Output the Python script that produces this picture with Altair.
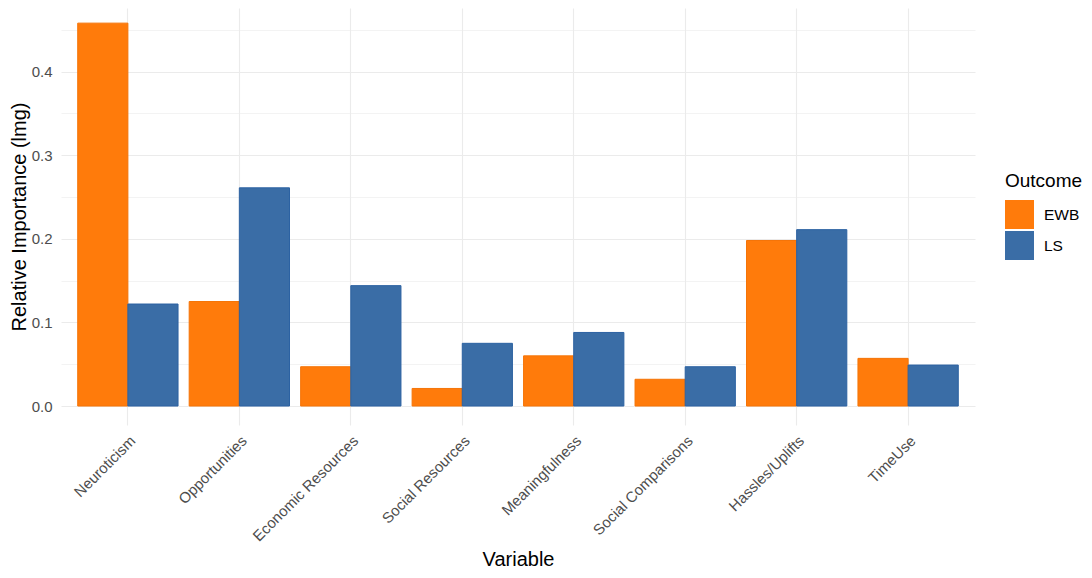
import altair as alt
import pandas as pd

variables = ["Neuroticism", "Opportunities", "Economic Resources", "Social Resources",
             "Meaningfulness", "Social Comparisons", "Hassles/Uplifts", "TimeUse"]
ewb = [0.458, 0.125, 0.047, 0.021, 0.060, 0.032, 0.198, 0.057]
ls = [0.122, 0.261, 0.144, 0.075, 0.088, 0.047, 0.211, 0.049]
outcomes = ["EWB", "LS"]
fill_colors = ["#FF7B0B", "#3A6DA6"]
stroke_colors = ["#F57407", "#2C62A2"]
y_ticks = [0.0, 0.05, 0.1, 0.15, 0.2, 0.25, 0.3, 0.35, 0.4, 0.45]

rows = []
for v, e, l in zip(variables, ewb, ls):
    rows.append({"Variable": v, "Outcome": "EWB", "Value": e})
    rows.append({"Variable": v, "Outcome": "LS", "Value": l})
df = pd.DataFrame(rows)

FONT = "Arial, Liberation Sans, sans-serif"

bars = alt.Chart(df).mark_bar(strokeWidth=1).encode(
    x=alt.X("Variable:N", sort=variables,
            scale=alt.Scale(paddingInner=0.1, paddingOuter=0.15),
            axis=alt.Axis(title="Variable", labelAngle=-45, labelAlign="right",
                          labelBaseline="top", labelPadding=8, ticks=False, tickSize=0,
                          domain=False, bandPosition=0.5, grid=True,
                          gridColor="#EBEBEB", gridWidth=1.1,
                          labelFontSize=15, labelColor="#4D4D4D",
                          titleFontSize=20, titleColor="#000000", titleFontWeight="normal",
                          titleY=140, titleBaseline="alphabetic", labelFont=FONT, titleFont=FONT)),
    xOffset=alt.XOffset("Outcome:N", sort=outcomes, scale=alt.Scale(paddingInner=0, paddingOuter=0)),
    y=alt.Y("Value:Q",
            scale=alt.Scale(domain=[-0.0227, 0.4761], nice=False, zero=False),
            axis=alt.Axis(title="Relative Importance (lmg)", values=y_ticks,
                          labelExpr="round(datum.value*20) % 2 == 0 ? format(datum.value, '.1f') : ''",
                          ticks=False, tickSize=0, domain=False, labelPadding=9,
                          gridColor="#EBEBEB",
                          gridWidth={"condition": {"test": "round(datum.value*20) % 2 == 0", "value": 1.1}, "value": 0.6},
                          labelFontSize=15, labelColor="#4D4D4D",
                          titleFontSize=20, titleColor="#000000", titleFontWeight="normal",
                          titleX=-42, titleBaseline="middle", labelFont=FONT, titleFont=FONT)),
    y2=alt.datum(0),
    color=alt.Color("Outcome:N", sort=outcomes,
                    scale=alt.Scale(domain=outcomes, range=fill_colors),
                    legend=alt.Legend(title="Outcome", orient="none", legendX=944, legendY=164,
                                      symbolType="square", symbolSize=841,
                                      symbolStrokeWidth=0, symbolOpacity=1,
                                      titleFontSize=19, titleFontWeight="normal", titleColor="#000000",
                                      labelFontSize=15.5, labelColor="#000000", labelOffset=10,
                                      rowPadding=2, titlePadding=9,
                                      titleFont=FONT, labelFont=FONT)),
    stroke=alt.Stroke("Outcome:N", sort=outcomes,
                      scale=alt.Scale(domain=outcomes, range=stroke_colors), legend=None),
).properties(
    width=914, height=417,
    padding={"left": 53, "top": 0, "right": 109, "bottom": 145},
    autosize=alt.AutoSizeParams(type="none"),
).configure(font=FONT).configure_view(stroke=None)

bars.save("out.html", embed_options={"renderer": "svg", "actions": False})
